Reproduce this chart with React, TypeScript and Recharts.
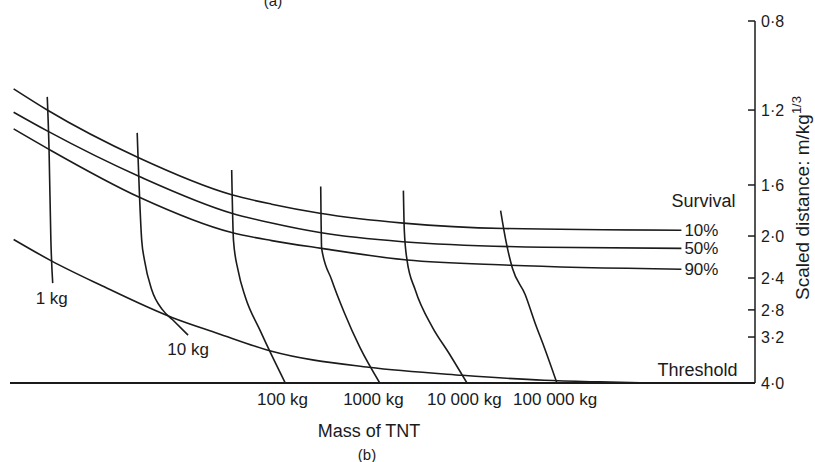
import { Customized, Line, LineChart, XAxis, YAxis } from "recharts";

const ink = "#1b1b1b";
const font = '"Liberation Sans", Arial, sans-serif';

// scaled distance axis: tick values and how far down the axis each one sits (0 top, 1 bottom)
const distanceTicks = [0.8, 1.2, 1.6, 2.0, 2.4, 2.8, 3.2, 3.6, 4.0];
const distanceStops = [0, 0.246, 0.453, 0.594, 0.71, 0.798, 0.873, 0.937, 1];

const massTicks = [2, 3, 4, 5];
const massTickLabels = ["100 kg", "1000 kg", "10 000 kg", "100 000 kg"];

// [position along chart, scaled distance]
const survival10 = [[-0.96, 1.09], [-0.59, 1.2], [0.41, 1.44], [1.44, 1.67], [1.88, 1.74], [2.41, 1.81], [3.33, 1.89], [4.44, 1.935], [6.39, 1.95]];
const survival50 = [[-0.96, 1.21], [-0.59, 1.3], [0.43, 1.55], [1.44, 1.81], [1.88, 1.89], [2.41, 1.97], [3.32, 2.05], [4.88, 2.1], [6.39, 2.11]];
const survival90 = [[-0.96, 1.29], [-0.59, 1.39], [0.43, 1.69], [1.44, 1.97], [1.88, 2.04], [2.43, 2.11], [3.37, 2.22], [4.5, 2.27], [6.39, 2.31]];
const threshold = [[-0.96, 2.03], [-0.54, 2.23], [-0.01, 2.48], [0.79, 2.91], [1.28, 3.14], [1.88, 3.44], [2.95, 3.72], [3.98, 3.86], [4.88, 3.95], [5.49, 3.98], [6.05, 4.0]];

const mass1 = [[-0.59, 1.13], [-0.57, 1.4], [-0.55, 2.04], [-0.53, 2.46]];
const mass10 = [[0.4, 1.31], [0.45, 2.04], [0.48, 2.22], [0.56, 2.54], [0.68, 2.8], [0.79, 2.94], [0.96, 3.17]];
const mass100 = [[1.44, 1.51], [1.46, 2.04], [1.51, 2.32], [1.59, 2.63], [1.75, 3.09], [1.88, 3.51], [2.03, 4.0]];
const mass1000 = [[2.42, 1.61], [2.43, 2.11], [2.54, 2.42], [2.68, 2.84], [2.85, 3.37], [3.07, 4.0]];
const mass10000 = [[3.33, 1.64], [3.34, 1.95], [3.37, 2.22], [3.46, 2.54], [3.65, 3.05], [3.83, 3.47], [4.03, 4.0]];
const mass100000 = [[4.4, 1.79], [4.46, 2.05], [4.53, 2.3], [4.67, 2.6], [4.78, 2.99], [4.88, 3.37], [5.02, 4.0]];

const rows = (pts: number[][]) => pts.map(([x, d]) => ({ x, d }));

// piecewise log scale that follows the uneven tick spacing of the original axis
function distanceScale(dom: number[] = [0.8, 4], rng: number[] = [0, 1]) {
  const frac = (v: number) => {
    const n = distanceTicks.length;
    for (let i = 0; i < n - 1; i++) {
      const a = distanceTicks[i];
      const b = distanceTicks[i + 1];
      if (v <= b || i === n - 2) {
        const t = Math.log(v / a) / Math.log(b / a);
        return distanceStops[i] + t * (distanceStops[i + 1] - distanceStops[i]);
      }
    }
    return 0;
  };
  const s: any = (v: number) => rng[0] + frac(v) * (rng[1] - rng[0]);
  s.domain = (d?: number[]) => {
    if (d === undefined) return dom;
    dom = d;
    return s;
  };
  s.range = (r?: number[]) => {
    if (r === undefined) return rng;
    rng = r;
    return s;
  };
  s.copy = () => distanceScale(dom.slice(), rng.slice());
  return s;
}

const fmt = (v: number) => v.toFixed(1).replace(".", "\u00b7");

function DistanceTick(props: any) {
  const { x, y, payload } = props;
  const ax = x - 6;
  return (
    <g>
      <line x1={ax - 7} x2={ax} y1={y} y2={y} stroke={ink} strokeWidth={1.5} />
      <text x={x} y={y} dy={6} fontSize={16} fontFamily={font} fill={ink}>
        {fmt(payload.value)}
      </text>
    </g>
  );
}

function endLabel(text: string, last: number, dx: number, dy: number, anchor: string, size: number, extra?: string) {
  return (props: any) => {
    if (props.index !== last) return null;
    return (
      <g>
        <text x={props.x + dx} y={props.y + dy} textAnchor={anchor} fontSize={size} fontFamily={font} fill={ink}>
          {text}
        </text>
        {extra ? (
          <text x={props.x + 54} y={props.y - 23} textAnchor="end" fontSize={18} fontFamily={font} fill={ink}>
            {extra}
          </text>
        ) : null}
      </g>
    );
  };
}

function Notes() {
  return (
    <g fontFamily={font} fill={ink}>
      <text x={273} y={6} textAnchor="middle" fontSize={15}>(a)</text>
      <text x={369} y={437} textAnchor="middle" fontSize={18}>Mass of TNT</text>
      <text x={367} y={460} textAnchor="middle" fontSize={15}>(b)</text>
      <text transform="translate(809,198) rotate(-90)" textAnchor="middle" fontSize={19}>
        Scaled distance: m/kg
        <tspan dy={-8} fontSize={13}>1/3</tspan>
      </text>
    </g>
  );
}

const lineProps = {
  type: "monotone" as const,
  dataKey: "d",
  stroke: ink,
  strokeWidth: 1.6,
  dot: false,
  isAnimationActive: false,
};

export default function App() {
  return (
    <div style={{ position: "absolute", left: 0, top: 0, background: "#fff" }}>
      <LineChart width={815} height={462} margin={{ top: 21, right: 0, bottom: 49, left: 10 }}>
        <XAxis
          dataKey="x"
          type="number"
          domain={[-1, 7.2]}
          allowDataOverflow
          ticks={massTicks}
          tickFormatter={(v: number) => massTickLabels[massTicks.indexOf(v)] ?? ""}
          tickLine={false}
          tickSize={0}
          tickMargin={10}
          height={30}
          axisLine={{ stroke: ink, strokeWidth: 1.8 }}
          tick={{ fill: ink, fontSize: 17, fontFamily: font }}
        />
        <YAxis
          yAxisId="d"
          orientation="right"
          type="number"
          scale={distanceScale()}
          domain={[0.8, 4]}
          allowDataOverflow
          reversed
          ticks={distanceTicks}
          width={60}
          tickLine={false}
          tickSize={0}
          tickMargin={6}
          axisLine={{ stroke: ink, strokeWidth: 1.5 }}
          tick={<DistanceTick />}
        />
        <Line {...lineProps} yAxisId="d" data={rows(survival10)} label={endLabel("10%", survival10.length - 1, 3, 6, "start", 17, "Survival")} />
        <Line {...lineProps} yAxisId="d" data={rows(survival50)} label={endLabel("50%", survival50.length - 1, 3, 6, "start", 17)} />
        <Line {...lineProps} yAxisId="d" data={rows(survival90)} label={endLabel("90%", survival90.length - 1, 3, 6, "start", 17)} />
        <Line {...lineProps} yAxisId="d" data={rows(threshold)} label={endLabel("Threshold", threshold.length - 1, 87, -7, "end", 18)} />
        <Line {...lineProps} yAxisId="d" data={rows(mass1)} label={endLabel("1 kg", mass1.length - 1, -1, 21, "middle", 17)} />
        <Line {...lineProps} yAxisId="d" data={rows(mass10)} label={endLabel("10 kg", mass10.length - 1, 0, 20, "middle", 17)} />
        <Line {...lineProps} yAxisId="d" data={rows(mass100)} />
        <Line {...lineProps} yAxisId="d" data={rows(mass1000)} />
        <Line {...lineProps} yAxisId="d" data={rows(mass10000)} />
        <Line {...lineProps} yAxisId="d" data={rows(mass100000)} />
        <Customized component={Notes} />
      </LineChart>
    </div>
  );
}
